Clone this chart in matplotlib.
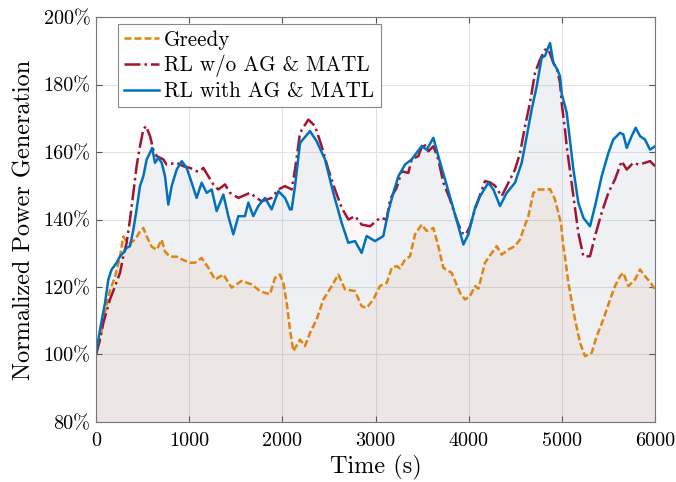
import matplotlib
matplotlib.use("Agg")
import matplotlib.pyplot as plt
import numpy as np

plt.rcParams['font.family'] = 'serif'
plt.rcParams['font.serif'] = ['cmr10']
plt.rcParams['axes.unicode_minus'] = False
plt.rcParams['mathtext.fontset'] = 'cm'

# ---- data (time in s, normalized power in %) ----
greedy_t = [0, 60, 100, 150, 204, 258, 293, 329, 365, 419, 472, 508, 544, 597, 651, 705, 741, 794, 866, 937,
            1009, 1062, 1134, 1206, 1277, 1367, 1456, 1563, 1670, 1760, 1867, 1921, 1975, 2011, 2047, 2082, 2118,
            2190, 2243, 2297, 2368, 2440, 2530, 2601, 2673, 2780, 2851, 2905, 2976, 3048, 3120, 3174, 3227, 3263,
            3317, 3370, 3424, 3495, 3549, 3621, 3674, 3728, 3817, 3907, 3960, 4014, 4068, 4104, 4175, 4247, 4301,
            4354, 4426, 4497, 4551, 4587, 4640, 4694, 4748, 4819, 4873, 4926, 4962, 4990, 5016, 5034, 5070, 5141,
            5195, 5248, 5320, 5373, 5445, 5517, 5570, 5624, 5660, 5714, 5785, 5839, 5892, 5946, 6000]
greedy_v = [100, 107, 113, 119, 123, 129, 135, 133.5, 133, 134, 136.5, 137.5, 135, 132, 131, 134, 130.5, 129, 129, 128,
            127.2, 127.2, 128.6, 125.7, 122.2, 123.7, 119.8, 121.8, 120.8, 118.8, 117.8, 122.7, 123.7, 121.2, 115.3, 107.4, 101,
            104.4, 102.5, 106.4, 110.4, 116.3, 120.3, 123.7, 119.3, 118.8, 114.3, 113.8, 116.3, 120.3, 121.2, 125.7, 126.2, 125.5,
            128.1, 129.1, 135.6, 138.5, 136.6, 137.5, 132.1, 125.7, 124.2, 118.3, 116.3, 117.3, 120.3, 119.5, 127.2, 130.1, 132.1,
            129.6, 131.1, 132.1, 134.1, 137, 141, 147.9, 148.9, 148.9, 149, 146, 142, 139, 132, 129, 121.2, 110.4,
            103.5, 99.5, 100.5, 105.4, 110.4, 116.3, 120.3, 123.2, 124.2, 120.3, 122.2, 125.2, 123.2, 121.5, 119.3]

rl_wo_t = [0, 40, 79, 150, 204, 258, 293, 329, 365, 401, 436, 472, 508, 537, 580, 615, 651, 723, 758, 866, 937,
           1009, 1080, 1117, 1152, 1206, 1259, 1313, 1385, 1438, 1528, 1653, 1724, 1778, 1885, 1957, 2029, 2100,
           2136, 2190, 2279, 2351, 2422, 2494, 2565, 2637, 2708, 2780, 2851, 2941, 3048, 3120, 3156, 3227, 3281,
           3352, 3388, 3460, 3513, 3567, 3621, 3674, 3728, 3799, 3871, 3925, 3968, 4014, 4068, 4104, 4175, 4229,
           4283, 4354, 4426, 4497, 4551, 4605, 4658, 4712, 4766, 4819, 4855, 4909, 4950, 4980, 5000, 5034, 5052,
           5124, 5177, 5231, 5302, 5356, 5427, 5499, 5570, 5642, 5696, 5767, 5821, 5892, 5946, 6000]
rl_wo_v = [100, 104, 109.4, 116.3, 120.2, 124.2, 129.1, 133.1, 140, 147.9, 155.8, 161.7, 166.7, 167.7, 164.7, 160.7, 158.8, 157.8, 156.3, 156.8, 155.8,
           155.3, 154.3, 154.3, 155.3, 152.8, 150.4, 148.9, 150.4, 147.9, 146.4, 147.9, 146.4, 145.4, 146.4, 148.9, 149.9, 148.9,
           154.8, 165.7, 169.6, 167.7, 161.7, 154.8, 148.9, 143.5, 140, 141, 138.5, 138, 140.5, 140, 146, 149.4, 154.3,
           153.8, 157.8, 158.8, 162.7, 160.2, 161.7, 157.8, 150.9, 146, 140, 136.1, 135.5, 138, 143, 145.9, 151.4, 151,
           150, 146.9, 150.9, 154.8, 159.7, 167.7, 174.6, 183.5, 187.4, 190.3, 190.5, 186.4, 184.4, 180.5, 174, 166.5, 161.7,
           146.9, 136, 129.1, 129.1, 135.1, 142, 147.9, 151.9, 157.3, 154.8, 156.8, 156.3, 156.8, 157.3, 155.8]

rl_with_t = [0, 43, 97, 132, 168, 222, 258, 293, 329, 365, 401, 436, 472, 508, 544, 580, 603, 633, 669, 705, 741, 776,
             812, 866, 920, 973, 1027, 1080, 1134, 1188, 1242, 1295, 1367, 1420, 1474, 1528, 1599, 1635, 1688, 1742,
             1814, 1885, 1957, 2029, 2082, 2100, 2136, 2190, 2297, 2368, 2458, 2547, 2637, 2708, 2780, 2851, 2905,
             2994, 3084, 3138, 3191, 3245, 3317, 3388, 3442, 3495, 3549, 3621, 3674, 3746, 3817, 3889, 3943, 3996,
             4068, 4122, 4211, 4265, 4336, 4408, 4497, 4569, 4623, 4676, 4730, 4783, 4819, 4873, 4909, 4950, 4980,
             5000, 5034, 5052, 5124, 5177, 5231, 5302, 5356, 5427, 5499, 5552, 5624, 5660, 5696, 5749, 5792, 5839,
             5892, 5946, 6000]
rl_with_v = [100, 107.4, 115.3, 122.2, 125.2, 127.2, 129.1, 130.1, 131.6, 132.1, 137, 143, 149.9, 152.8, 157.8, 159.8, 161.2, 156.8, 158.3, 156.8, 152.8, 144.4,
             149.9, 154.8, 157.3, 155.3, 150.9, 146.4, 150.9, 147.9, 148.9, 142.5, 147.4, 141, 135.6, 141, 141, 145, 141, 144,
             146.4, 143, 148.4, 146.4, 143, 143, 149.9, 162.7, 166.2, 163.2, 157.8, 147.9, 139, 133.1, 133.6, 130.1, 135.1,
             133.6, 135.1, 142.5, 147.9, 152.8, 156.3, 157.8, 159.8, 161.7, 160.7, 164.2, 158.8, 151.9, 145, 138, 132.6, 135.6,
             143.5, 146.9, 150.9, 148.9, 144, 147.9, 150.9, 156.8, 164.7, 172.6, 179.5, 187.9, 188.5, 192.3, 186.4, 184.5, 182.5,
             177, 173.6, 171.6, 154.8, 144.9, 140.5, 138, 144, 152.8, 159.7, 163.7, 165.7, 165.2, 161.2, 164.7, 167.2, 164.7,
             163.7, 160.7, 161.7]

labels = ['Greedy', 'RL w/o AG & MATL', 'RL with AG & MATL']
colors = ['#DE8410', '#A2142F', '#0072BD']
styles = [(0, (2.8, 1.2)), '-.', '-']
fill_alpha = [0.07, 0.03, 0.05]
x_ticks = [0, 1000, 2000, 3000, 4000, 5000, 6000]
y_ticks = [80, 100, 120, 140, 160, 180, 200]
y_tick_labels = ['80%', '100%', '120%', '140%', '160%', '180%', '200%']

fig = plt.figure(figsize=(6.76, 4.82), dpi=100)
ax = fig.add_axes([0.142, 0.1245, 0.827, 0.8402])

series = [(greedy_t, greedy_v), (rl_wo_t, rl_wo_v), (rl_with_t, rl_with_v)]
for (t, v), c, a in zip(series, colors, fill_alpha):
    ax.fill_between(t, 80, v, color=c, alpha=a, linewidth=0)
for (t, v), c, s, lab in zip(series, colors, styles, labels):
    ax.plot(t, v, color=c, linestyle=s, linewidth=1.8, label=lab)

ax.set_xlim(0, 6000)
ax.set_ylim(80, 200)
ax.set_xticks(x_ticks)
ax.set_xticklabels([str(x) for x in x_ticks])
ax.set_yticks(y_ticks)
ax.set_yticklabels(y_tick_labels)
ax.tick_params(direction='in', labelsize=14.5, color='#555555', length=4, top=True, right=True,
               labeltop=False, labelright=False, pad=4)
ax.tick_params(axis='x', pad=7)
ax.grid(True, color='#E3E3E3', linewidth=0.8)
ax.set_axisbelow(True)
for sp in ax.spines.values():
    sp.set_color('#777777')
    sp.set_linewidth(0.8)

ax.set_xlabel('Time (s)', fontsize=17.5, labelpad=4)
ax.set_ylabel('Normalized Power Generation', fontsize=17.5, labelpad=6)

leg = ax.legend(loc='upper left', bbox_to_anchor=(0.039, 0.983), borderaxespad=0, fontsize=15.2,
                handlelength=1.65, handletextpad=0.25, labelspacing=0.22, borderpad=0.3,
                fancybox=False, framealpha=1, edgecolor='#888888')
leg.get_frame().set_linewidth(0.8)

fig.savefig('out.png', dpi=100)
